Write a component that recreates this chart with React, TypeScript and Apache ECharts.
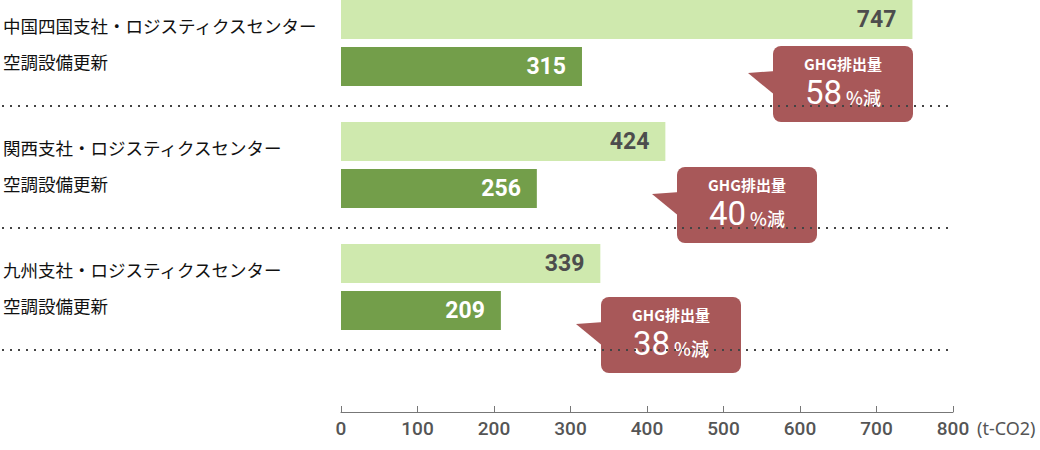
import * as echarts from 'echarts';
import { useEffect, useRef } from 'react';

const categories = [
    '中国四国支社・ロジスティクスセンター',
    '関西支社・ロジスティクスセンター',
    '九州支社・ロジスティクスセンター',
];
const projects = ['空調設備更新', '空調設備更新', '空調設備更新'];
const beforeValues = [747, 424, 339];
const afterValues = [315, 256, 209];
const reductions = [58, 40, 38];
const axisMax = 800;
const axisStep = 100;
const unitLabel = '(t-CO2)';

// layout
const GRID_LEFT = 341;
const GRID_RIGHT = 87;
const GRID_TOP = -18;
const BAND = 122;
const AXIS_Y = 412;
const calloutPos = [
    [773, 46],
    [677, 167],
    [601, 297],
];

const NUM = "Roboto, 'Liberation Sans', sans-serif";
const JP = "'Noto Sans CJK JP', 'Noto Sans', sans-serif";
const RED = '#a85859';

export default function App() {
    const chartRef = useRef<HTMLDivElement>(null);

    useEffect(() => {
        if (!chartRef.current) return;
        document.body.style.margin = '0';

        const chart = echarts.init(chartRef.current, undefined, { renderer: 'svg' });
        const gridBottomY = GRID_TOP + BAND * categories.length;

        const dotted = categories.map((_, i) => ({
            type: 'line',
            z: 1,
            shape: { x1: 2, y1: GRID_TOP + BAND * (i + 1) + 2, x2: 952, y2: GRID_TOP + BAND * (i + 1) + 2 },
            style: { stroke: '#444', lineWidth: 2, lineDash: [2, 6] },
        }));

        const callouts = reductions.map((r, i) => ({
            type: 'group',
            x: calloutPos[i][0],
            y: calloutPos[i][1],
            z: 10,
            children: [
                {
                    type: 'polygon',
                    shape: { points: [[-25, 27], [3, 25], [3, 50]] },
                    style: { fill: RED },
                },
                {
                    type: 'rect',
                    shape: { x: 0, y: 0, width: 140, height: 76, r: 8 },
                    style: { fill: RED },
                },
                {
                    type: 'text',
                    x: 70,
                    y: 17,
                    style: {
                        text: 'GHG排出量',
                        fill: '#fff',
                        fontSize: 15,
                        fontWeight: 'bold',
                        fontFamily: JP,
                        align: 'center',
                        verticalAlign: 'middle',
                    },
                },
                {
                    type: 'text',
                    x: 70,
                    y: 46,
                    style: {
                        text: `{a|${r}}{b|%減}`,
                        align: 'center',
                        verticalAlign: 'middle',
                        rich: {
                            a: {
                                fill: '#fff',
                                fontSize: 33,
                                fontWeight: 'normal',
                                fontFamily: NUM,
                                lineHeight: 34,
                                verticalAlign: 'bottom',
                                padding: [0, 4, 0, 0],
                            },
                            b: {
                                fill: '#fff',
                                fontSize: 18,
                                fontWeight: 500,
                                fontFamily: JP,
                                lineHeight: 34,
                                verticalAlign: 'bottom',
                                padding: [0, 0, 3, 0],
                            },
                        },
                    },
                },
            ],
        }));

        const option: any = {
            animation: false,
            grid: {
                left: GRID_LEFT,
                right: GRID_RIGHT,
                top: GRID_TOP,
                bottom: 450 - gridBottomY,
                outerBoundsMode: 'none',
                containLabel: false,
            },
            xAxis: {
                type: 'value',
                min: 0,
                max: axisMax,
                interval: axisStep,
                offset: AXIS_Y - gridBottomY,
                name: unitLabel,
                nameLocation: 'end',
                nameGap: 24,
                nameTextStyle: {
                    color: '#555',
                    fontSize: 18,
                    fontFamily: "'Noto Sans', sans-serif",
                    verticalAlign: 'top',
                    lineHeight: 32,
                },
                axisLine: { show: true, lineStyle: { color: '#777', width: 1 } },
                axisTick: { show: true, inside: true, length: 6, lineStyle: { color: '#777' } },
                splitLine: { show: false },
                axisLabel: {
                    color: '#555',
                    fontSize: 19,
                    fontWeight: 500,
                    fontFamily: NUM,
                    margin: 7,
                },
            },
            yAxis: {
                type: 'category',
                inverse: true,
                data: categories,
                axisLine: { show: false },
                axisTick: { show: false },
                splitLine: { show: false },
                axisLabel: {
                    align: 'left',
                    margin: 338,
                    color: '#111',
                    fontSize: 17.5,
                    fontWeight: 'normal',
                    fontFamily: JP,
                    lineHeight: 36,
                    formatter: (value: string, idx: number) => `${value}\n${projects[idx]}`,
                },
            },
            series: [
                {
                    name: 'before',
                    type: 'bar',
                    data: beforeValues,
                    barWidth: 39,
                    barGap: '21%',
                    itemStyle: { color: '#cfe9ae' },
                    label: {
                        show: true,
                        position: 'insideRight',
                        distance: 16,
                        color: '#4d4d4d',
                        fontSize: 23,
                        fontWeight: 'bold',
                        fontFamily: NUM,
                    },
                },
                {
                    name: 'after',
                    type: 'bar',
                    data: afterValues,
                    barWidth: 39,
                    barGap: '21%',
                    itemStyle: { color: '#739e4a' },
                    label: {
                        show: true,
                        position: 'insideRight',
                        distance: 16,
                        color: '#fff',
                        fontSize: 23,
                        fontWeight: 'bold',
                        fontFamily: NUM,
                    },
                },
            ],
            graphic: [...dotted, ...callouts],
        };

        chart.setOption(option);

        const handleResize = () => chart.resize();
        window.addEventListener('resize', handleResize);

        return () => {
            chart.dispose();
            window.removeEventListener('resize', handleResize);
        };
    }, []);

    return <div ref={chartRef} style={{ width: '1040px', height: '450px' }} />;
}
